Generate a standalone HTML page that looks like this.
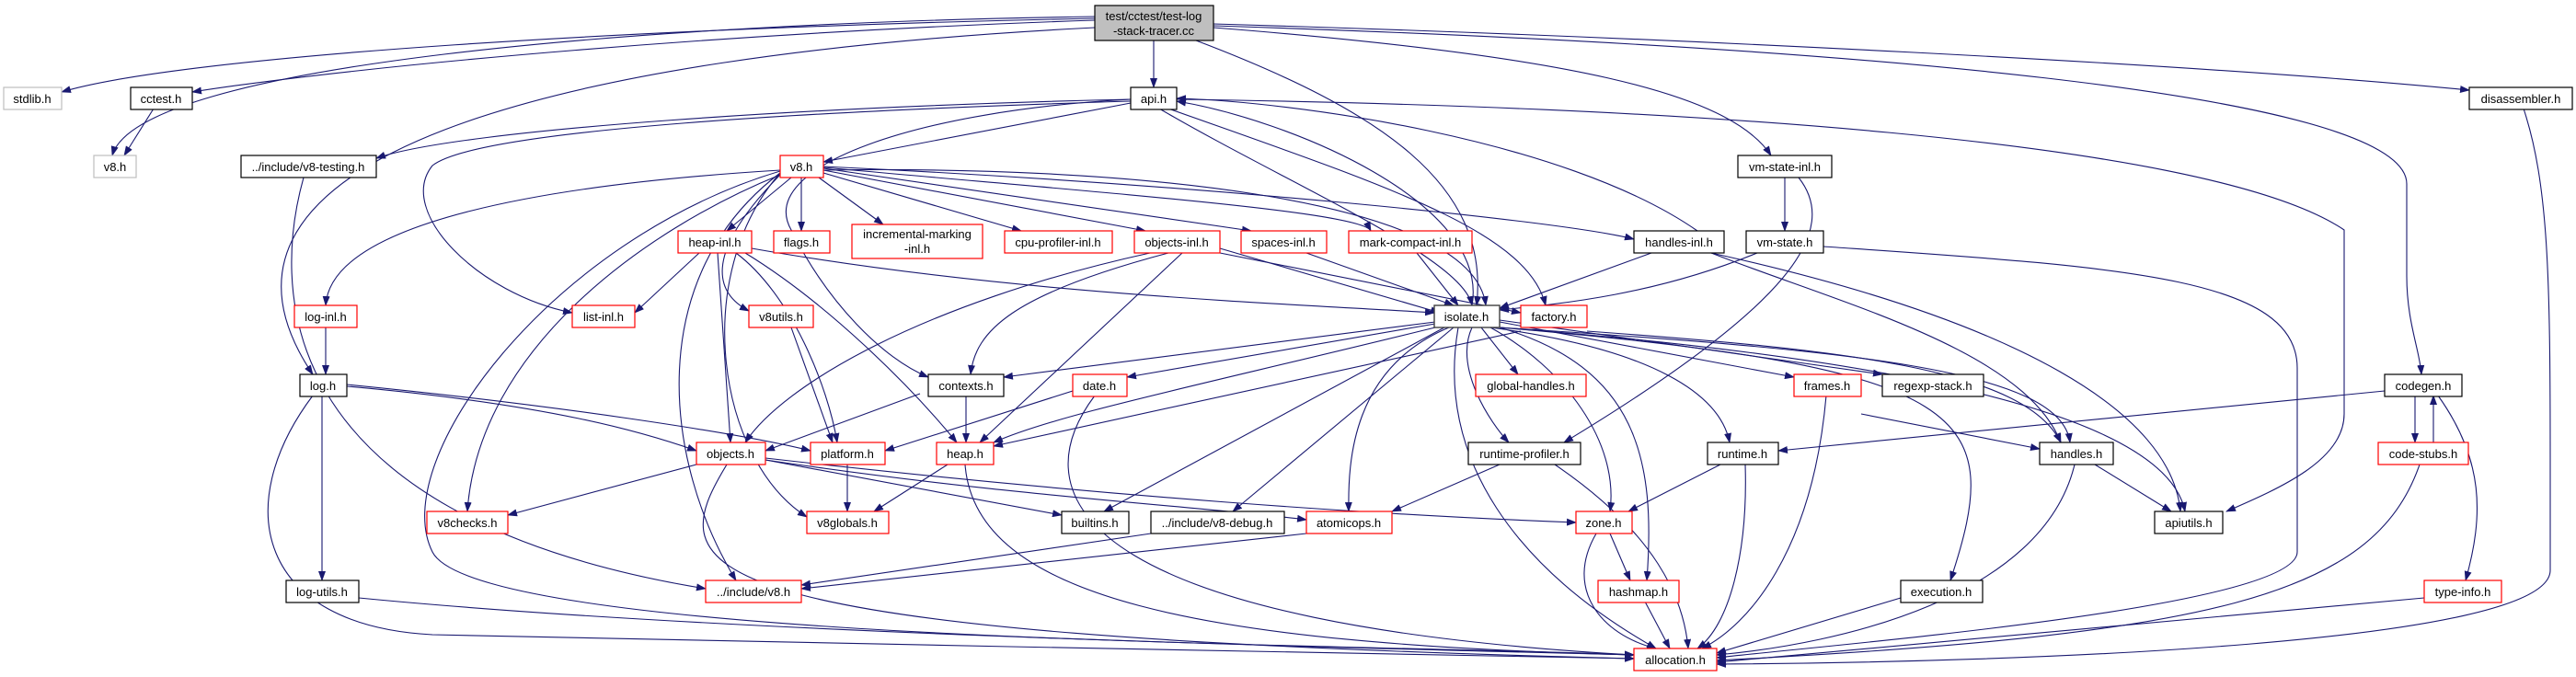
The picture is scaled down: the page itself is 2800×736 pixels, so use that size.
<!DOCTYPE html>
<html><head><meta charset="utf-8"><style>
html,body{margin:0;padding:0;background:#fff;}
svg{display:block;}
text{font-family:"Liberation Sans",Arial,sans-serif;font-size:13px;fill:#000;}
.e{fill:none;stroke:#191970;stroke-width:1.1;}
.n{fill:#fff;stroke:#000;stroke-width:1.2;}
.r{fill:#fff;stroke:#ff0000;stroke-width:1.2;}
.g{fill:#fff;stroke:#bfbfbf;stroke-width:1.2;}
</style></head><body>
<svg width="2800" height="736" viewBox="0 0 2800 736" xmlns="http://www.w3.org/2000/svg">
<defs><marker id="a" markerWidth="11" markerHeight="8" refX="10" refY="4" orient="auto" markerUnits="userSpaceOnUse"><polygon points="0,0 11,4 0,8" fill="#191970"/></marker></defs>
<g class="e" marker-end="url(#a)">
<path d="M1190 20 C700 30 200 60 67 100"/>
<path d="M1190 22 C800 35 400 70 209 100"/>
<path d="M1190 18 C700 25 150 70 122 169"/>
<path d="M1190 30 C600 60 180 170 340 407"/>
<path d="M1254 44 L1254 95"/>
<path d="M1300 44 C1500 120 1620 200 1605 332"/>
<path d="M1319 30 C1700 60 1880 100 1925 169"/>
<path d="M1319 26 C1800 40 2400 70 2684 98"/>
<path d="M1319 28 C2000 50 2616 100 2616 200 L2616 300 C2616 350 2630 380 2632 407"/>
<path d="M1229 112 L895 176"/>
<path d="M1229 108 C900 115 500 140 409 172"/>
<path d="M1229 110 C900 120 520 140 470 180 C430 230 520 320 622 340"/>
<path d="M1229 108 C1000 120 820 180 860 250 C900 330 960 390 1009 410"/>
<path d="M1260 118 C1400 200 1590 280 1600 332"/>
<path d="M1270 118 C1500 200 1660 250 1680 332"/>
<path d="M1279 108 C1800 115 2400 150 2548 250 L2548 450 C2548 500 2480 530 2420 556"/>
<path d="M1845 251 C1700 150 1400 110 1279 107"/>
<path d="M1600 332 C1620 220 1400 130 1279 110"/>
<path d="M330 193 C300 300 280 560 767 640"/>
<path d="M167 118 L135 169"/>
<path d="M860 193 L790 251"/>
<path d="M871 193 L871 251"/>
<path d="M890 193 L960 244"/>
<path d="M895 188 L1110 251"/>
<path d="M895 185 L1245 251"/>
<path d="M895 183 L1360 251"/>
<path d="M895 182 C1200 210 1480 230 1490 251"/>
<path d="M895 181 C1300 200 1700 240 1776 260"/>
<path d="M895 185 C1200 180 1600 210 1615 332"/>
<path d="M848 185 C600 200 360 240 354 332"/>
<path d="M848 190 C760 280 780 320 814 338"/>
<path d="M848 190 C700 250 520 380 508 556"/>
<path d="M848 188 C750 300 780 500 877 562"/>
<path d="M848 188 C700 300 720 500 800 631"/>
<path d="M848 186 C600 260 420 500 470 600 C520 700 1500 700 1776 712"/>
<path d="M760 275 L690 340"/>
<path d="M780 275 L794 481"/>
<path d="M800 275 C860 320 900 420 910 481"/>
<path d="M810 275 C900 330 990 420 1040 481"/>
<path d="M817 270 C1100 320 1400 330 1559 340"/>
<path d="M860 356 L905 481"/>
<path d="M1326 270 L1565 340"/>
<path d="M1270 275 C1100 320 1060 360 1055 407"/>
<path d="M1285 275 L1065 481"/>
<path d="M1250 275 C1000 330 850 420 810 481"/>
<path d="M1326 275 L1653 340"/>
<path d="M1420 275 L1580 332"/>
<path d="M1540 275 L1585 332"/>
<path d="M1795 275 L1630 335"/>
<path d="M1860 275 C2000 330 2200 380 2240 481"/>
<path d="M1860 275 C2200 350 2360 450 2370 556"/>
<path d="M1940 193 L1940 251"/>
<path d="M1955 193 C2000 250 1950 330 1700 481"/>
<path d="M1910 275 C1800 320 1700 330 1630 337"/>
<path d="M1982 268 C2300 290 2497 300 2497 400 L2497 600 C2497 660 2000 700 1866 715"/>
<path d="M354 356 L354 407"/>
<path d="M377 420 C600 440 700 470 757 490"/>
<path d="M377 418 C600 440 800 470 881 490"/>
<path d="M350 430 L350 631"/>
<path d="M340 430 C250 550 280 680 470 690 C800 700 1500 708 1776 716"/>
<path d="M390 650 C800 690 1500 705 1776 712"/>
<path d="M1560 350 L1091 410"/>
<path d="M1560 352 L1225 410"/>
<path d="M1560 356 C1300 420 1150 450 1080 481"/>
<path d="M1610 356 L1650 407"/>
<path d="M1600 356 C1580 400 1620 460 1640 481"/>
<path d="M1620 356 C1800 380 1870 430 1880 481"/>
<path d="M1630 350 L1950 410"/>
<path d="M1630 348 L2046 407"/>
<path d="M1630 356 C2000 380 2240 400 2250 481"/>
<path d="M1630 356 C2200 400 2360 480 2375 556"/>
<path d="M1570 356 L1200 556"/>
<path d="M1580 356 L1340 556"/>
<path d="M1575 356 C1470 400 1465 500 1466 556"/>
<path d="M1620 356 C1700 400 1760 480 1750 556"/>
<path d="M1630 356 C1780 400 1800 500 1790 631"/>
<path d="M1585 356 C1560 500 1650 620 1800 705"/>
<path d="M1630 356 C2150 400 2180 450 2120 631"/>
<path d="M1725 360 C2000 380 2200 400 2240 481"/>
<path d="M1653 360 L1080 485"/>
<path d="M1050 430 L1050 481"/>
<path d="M1000 428 L832 490"/>
<path d="M1166 425 L962 490"/>
<path d="M1190 430 C1100 550 1200 680 1776 712"/>
<path d="M757 505 L552 560"/>
<path d="M832 500 L1154 560"/>
<path d="M832 500 C1100 540 1300 550 1420 565"/>
<path d="M832 498 C1200 540 1500 560 1713 568"/>
<path d="M790 505 C720 620 720 690 1776 716"/>
<path d="M921 505 L921 556"/>
<path d="M1030 505 L950 556"/>
<path d="M1049 505 C1060 650 1300 700 1776 712"/>
<path d="M2023 450 L2217 488"/>
<path d="M1985 430 C1970 600 1900 680 1850 705"/>
<path d="M2592 425 L1933 490"/>
<path d="M2625 430 L2625 481"/>
<path d="M2645 481 L2645 430"/>
<path d="M2650 430 C2700 500 2700 560 2680 631"/>
<path d="M2630 505 C2580 650 2400 690 1866 718"/>
<path d="M2635 650 L1866 720"/>
<path d="M2743 118 C2770 200 2772 300 2772 500 L2772 620 C2772 700 2200 720 1866 722"/>
<path d="M1630 505 L1513 556"/>
<path d="M1690 505 C1800 580 1830 650 1835 705"/>
<path d="M1870 505 L1770 556"/>
<path d="M1897 505 C1900 600 1880 680 1845 705"/>
<path d="M1750 580 L1772 631"/>
<path d="M1735 580 C1700 640 1740 690 1800 705"/>
<path d="M1788 654 L1815 705"/>
<path d="M1420 580 L871 640"/>
<path d="M1251 580 L871 636"/>
<path d="M2066 650 L1866 710"/>
<path d="M2277 505 L2360 556"/>
<path d="M2255 505 C2220 650 2000 700 1866 712"/>
</g>
<g>
<rect x="1190" y="6" width="129" height="38" fill="#bfbfbf" stroke="#000" stroke-width="1.2"/>
<text x="1254" y="22" text-anchor="middle">test/cctest/test-log</text>
<text x="1254" y="38" text-anchor="middle">-stack-tracer.cc</text>

<rect class="g" x="4" y="95" width="63" height="24"/><text x="35" y="112" text-anchor="middle">stdlib.h</text>
<rect class="n" x="142" y="95" width="67" height="24"/><text x="175" y="112" text-anchor="middle">cctest.h</text>
<rect class="n" x="1229" y="95" width="50" height="24"/><text x="1254" y="112" text-anchor="middle">api.h</text>
<rect class="n" x="2684" y="95" width="112" height="24"/><text x="2740" y="112" text-anchor="middle">disassembler.h</text>

<rect class="g" x="102" y="169" width="46" height="24"/><text x="125" y="186" text-anchor="middle">v8.h</text>
<rect class="n" x="262" y="169" width="147" height="24"/><text x="335" y="186" text-anchor="middle">../include/v8-testing.h</text>
<rect class="r" x="848" y="169" width="47" height="24"/><text x="871" y="186" text-anchor="middle">v8.h</text>
<rect class="n" x="1889" y="169" width="102" height="24"/><text x="1940" y="186" text-anchor="middle">vm-state-inl.h</text>

<rect class="r" x="737" y="251" width="80" height="24"/><text x="777" y="268" text-anchor="middle">heap-inl.h</text>
<rect class="r" x="841" y="251" width="61" height="24"/><text x="871" y="268" text-anchor="middle">flags.h</text>
<rect class="r" x="926" y="244" width="142" height="37"/><text x="997" y="259" text-anchor="middle">incremental-marking</text><text x="997" y="275" text-anchor="middle">-inl.h</text>
<rect class="r" x="1092" y="251" width="117" height="24"/><text x="1150" y="268" text-anchor="middle">cpu-profiler-inl.h</text>
<rect class="r" x="1233" y="251" width="93" height="24"/><text x="1279" y="268" text-anchor="middle">objects-inl.h</text>
<rect class="r" x="1349" y="251" width="93" height="24"/><text x="1395" y="268" text-anchor="middle">spaces-inl.h</text>
<rect class="r" x="1466" y="251" width="134" height="24"/><text x="1533" y="268" text-anchor="middle">mark-compact-inl.h</text>
<rect class="n" x="1776" y="251" width="98" height="24"/><text x="1825" y="268" text-anchor="middle">handles-inl.h</text>
<rect class="n" x="1898" y="251" width="84" height="24"/><text x="1940" y="268" text-anchor="middle">vm-state.h</text>

<rect class="r" x="320" y="332" width="68" height="24"/><text x="354" y="349" text-anchor="middle">log-inl.h</text>
<rect class="r" x="622" y="332" width="68" height="24"/><text x="656" y="349" text-anchor="middle">list-inl.h</text>
<rect class="r" x="814" y="332" width="70" height="24"/><text x="849" y="349" text-anchor="middle">v8utils.h</text>
<rect x="1559" y="332" width="71" height="24" fill="#fff" stroke="#404040" stroke-width="1.4"/><text x="1594" y="349" text-anchor="middle">isolate.h</text>
<rect class="r" x="1653" y="332" width="72" height="24"/><text x="1689" y="349" text-anchor="middle">factory.h</text>

<rect class="n" x="326" y="407" width="51" height="24"/><text x="351" y="424" text-anchor="middle">log.h</text>
<rect class="n" x="1009" y="407" width="82" height="24"/><text x="1050" y="424" text-anchor="middle">contexts.h</text>
<rect class="r" x="1166" y="407" width="59" height="24"/><text x="1195" y="424" text-anchor="middle">date.h</text>
<rect class="r" x="1604" y="407" width="120" height="24"/><text x="1664" y="424" text-anchor="middle">global-handles.h</text>
<rect class="r" x="1950" y="407" width="73" height="24"/><text x="1986" y="424" text-anchor="middle">frames.h</text>
<rect class="n" x="2046" y="407" width="110" height="24"/><text x="2101" y="424" text-anchor="middle">regexp-stack.h</text>
<rect class="n" x="2592" y="407" width="84" height="24"/><text x="2634" y="424" text-anchor="middle">codegen.h</text>

<rect class="r" x="757" y="481" width="75" height="24"/><text x="794" y="498" text-anchor="middle">objects.h</text>
<rect class="r" x="881" y="481" width="81" height="24"/><text x="921" y="498" text-anchor="middle">platform.h</text>
<rect class="r" x="1018" y="481" width="62" height="24"/><text x="1049" y="498" text-anchor="middle">heap.h</text>
<rect class="n" x="1596" y="481" width="122" height="24"/><text x="1657" y="498" text-anchor="middle">runtime-profiler.h</text>
<rect class="n" x="1856" y="481" width="77" height="24"/><text x="1894" y="498" text-anchor="middle">runtime.h</text>
<rect class="n" x="2217" y="481" width="80" height="24"/><text x="2257" y="498" text-anchor="middle">handles.h</text>
<rect class="r" x="2585" y="481" width="98" height="24"/><text x="2634" y="498" text-anchor="middle">code-stubs.h</text>

<rect class="r" x="464" y="556" width="88" height="24"/><text x="508" y="573" text-anchor="middle">v8checks.h</text>
<rect class="r" x="877" y="556" width="89" height="24"/><text x="921" y="573" text-anchor="middle">v8globals.h</text>
<rect class="n" x="1154" y="556" width="73" height="24"/><text x="1190" y="573" text-anchor="middle">builtins.h</text>
<rect class="n" x="1251" y="556" width="145" height="24"/><text x="1323" y="573" text-anchor="middle">../include/v8-debug.h</text>
<rect class="r" x="1420" y="556" width="93" height="24"/><text x="1466" y="573" text-anchor="middle">atomicops.h</text>
<rect class="r" x="1713" y="556" width="61" height="24"/><text x="1743" y="573" text-anchor="middle">zone.h</text>
<rect class="n" x="2342" y="556" width="74" height="24"/><text x="2379" y="573" text-anchor="middle">apiutils.h</text>

<rect class="n" x="311" y="631" width="79" height="24"/><text x="350" y="648" text-anchor="middle">log-utils.h</text>
<rect class="r" x="767" y="631" width="104" height="24"/><text x="819" y="648" text-anchor="middle">../include/v8.h</text>
<rect class="r" x="1737" y="631" width="88" height="24"/><text x="1781" y="648" text-anchor="middle">hashmap.h</text>
<rect class="n" x="2066" y="631" width="89" height="24"/><text x="2110" y="648" text-anchor="middle">execution.h</text>
<rect class="r" x="2635" y="631" width="84" height="24"/><text x="2677" y="648" text-anchor="middle">type-info.h</text>

<rect class="r" x="1776" y="705" width="90" height="24"/><text x="1821" y="722" text-anchor="middle">allocation.h</text>
</g>
</svg>
</body></html>
